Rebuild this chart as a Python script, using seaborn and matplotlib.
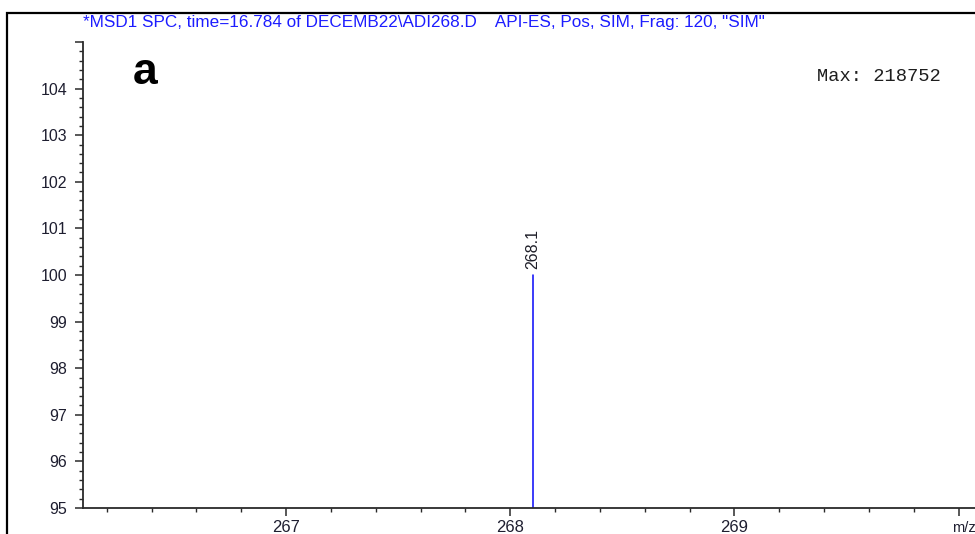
import matplotlib
matplotlib.use("Agg")
import matplotlib.pyplot as plt
from matplotlib.patches import Rectangle
from matplotlib.ticker import MultipleLocator, FixedLocator, FixedFormatter
import matplotlib.transforms as mtransforms
import numpy as np
import pandas as pd
import seaborn as sns

# Spectrum data (SIM, single ion)
peak_mz = [268.1]
peak_abundance = [100.0]
peak_labels = ["268.1"]

y_ticks = [95, 96, 97, 98, 99, 100, 101, 102, 103, 104, 105]
y_ticklabels = ["95", "96", "97", "98", "99", "100", "101", "102", "103", "104", ""]
x_ticks = [267, 268, 269, 270]
x_ticklabels = ["267", "268", "269", ""]

header = '*MSD1 SPC, time=16.784 of DECEMB22\\ADI268.D    API-ES, Pos, SIM, Frag: 120, "SIM"'
max_text = "Max: 218752"
panel_letter = "a"

sns.set_theme(style="white")
plt.rcParams["font.family"] = ["Liberation Sans", "DejaVu Sans"]

W, H = 975, 534
fig = plt.figure(figsize=(W / 100, H / 100), dpi=100)
fig.patch.set_facecolor("white")

ax = fig.add_axes([83 / W, 26 / H, 892 / W, 466 / H])
ax.set_facecolor("white")

# long-form stick table: each peak is a vertical segment from the baseline to its abundance
rows = []
for i, (mz, ab) in enumerate(zip(peak_mz, peak_abundance)):
    rows.append({"peak": i, "mz": mz, "abundance": 0.0})
    rows.append({"peak": i, "mz": mz, "abundance": ab})
sticks = pd.DataFrame(rows)

sns.lineplot(data=sticks, x="mz", y="abundance", units="peak", estimator=None,
             color="#1010f8", linewidth=1.15, ax=ax, legend=False, sort=False)

ax.set_xlim(266.094, 270.073)
ax.set_ylim(95, 105)
ax.set_xlabel("")
ax.set_ylabel("")

for lab, mz, ab in zip(peak_labels, peak_mz, peak_abundance):
    ax.annotate(lab, xy=(mz, ab), xytext=(0, 4), textcoords="offset points",
                rotation=90, ha="center", va="bottom", fontsize=11.5, color="#1e1e28")

# spines
for side in ["top", "right"]:
    ax.spines[side].set_visible(False)
for side in ["left", "bottom"]:
    ax.spines[side].set_color("#2a2a2a")
    ax.spines[side].set_linewidth(1.3)

ax.yaxis.set_major_locator(FixedLocator(y_ticks))
ax.yaxis.set_major_formatter(FixedFormatter(y_ticklabels))
ax.yaxis.set_minor_locator(MultipleLocator(0.2))
ax.xaxis.set_major_locator(FixedLocator(x_ticks))
ax.xaxis.set_major_formatter(FixedFormatter(x_ticklabels))
ax.xaxis.set_minor_locator(MultipleLocator(0.2))

ax.tick_params(axis="y", which="major", direction="out", length=6, width=1.1,
               color="#2a2a2a", pad=5.5, labelsize=11.5, labelcolor="#1e1e30", left=True)
ax.tick_params(axis="y", which="minor", direction="out", length=2.6, width=1.0,
               color="#2a2a2a", left=True)
ax.tick_params(axis="x", which="major", direction="out", length=6, width=1.1,
               color="#2a2a2a", pad=3.0, labelsize=12, labelcolor="#1e1e30", bottom=True)
ax.tick_params(axis="x", which="minor", direction="out", length=3, width=1.0,
               color="#2a2a2a", bottom=True)

# axis unit label placed at the last major tick
trans = mtransforms.blended_transform_factory(ax.transData, ax.transAxes)
ax.annotate("m/z", xy=(270, 0), xycoords=trans, xytext=(-4.5, -9.2),
            textcoords="offset points", ha="left", va="top",
            fontsize=10.5, color="#1e1e30", annotation_clip=False)

# outer panel frame
fig.add_artist(Rectangle((7 / W, -0.2), 1.5, 1.2 - 13 / H, transform=fig.transFigure,
                         fill=False, edgecolor="black", linewidth=1.6))

fig.text(83 / W, 1 - 22 / H, header, ha="left", va="center",
         fontsize=12.3, color="#1c1cff")
fig.text(133 / W, 1 - 84 / H, panel_letter, ha="left", va="baseline",
         fontsize=32, fontweight="bold", color="black")
fig.text(817 / W, 1 - 81 / H, max_text, ha="left", va="baseline",
         fontsize=13.5, color="#1e1e1e", family=["Liberation Mono", "DejaVu Sans Mono"])

fig.savefig("out.png", dpi=100)
